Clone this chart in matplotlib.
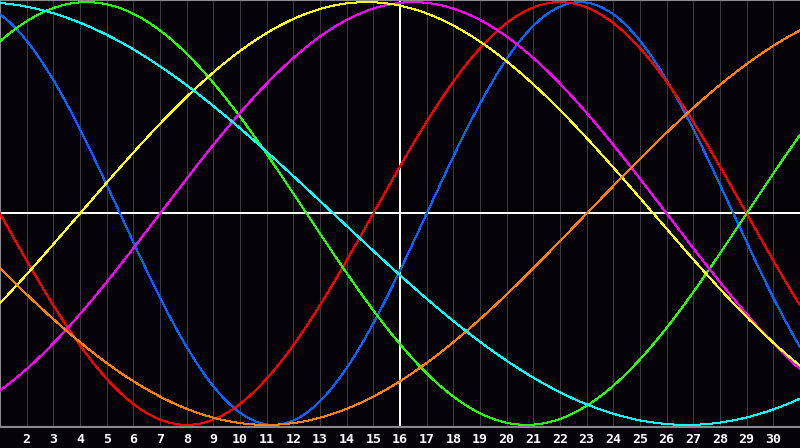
"""Biorhythm chart: seven cycles over a 30 day window, today marked in white."""
import numpy as np
import matplotlib
matplotlib.use("Agg")
import matplotlib.pyplot as plt

# window of days shown, tick labels along the bottom
first_day = 1
last_day = 31
tick_days = list(range(2, 31))
today = 16

# cycle lengths (days) and where each cycle stands on day 1 (day within its cycle)
periods = [23, 28, 33, 38, 43, 48, 53]
start_phase = [7, 14, 5, 32, 40, 26, 14]
colors = ["#0066ff", "#ff0000", "#22ff00", "#ff00ff", "#ffff00", "#ff8000", "#00ffff"]

bg = "#050308"

fig = plt.figure(figsize=(8, 4.48), dpi=100, facecolor=bg)
ax = fig.add_axes([0, 1 - 427 / 448, 1, 427 / 448], facecolor=bg)

# day grid
for d in tick_days:
    ax.axvline(d, color="#3a3a3a", lw=0.72, zorder=1, antialiased=False)

ax.axhline(0, color="white", lw=1.1, zorder=2, antialiased=False)
ax.axvline(today, color="white", lw=1.1, zorder=2, antialiased=False)

t = np.linspace(first_day, last_day, 1201)
for p, ph, c in zip(periods, start_phase, colors):
    ax.plot(t, np.sin(2 * np.pi * (ph + t - first_day) / p), color=c, lw=0.72,
            zorder=3, antialiased=False)

ax.set_xlim(first_day, last_day)
ax.set_ylim(-1.01, 1.01)
ax.set_xticks([])
ax.set_yticks([])
for side in ["left", "top", "bottom"]:
    ax.spines[side].set_color("#8a8a8a")
    ax.spines[side].set_linewidth(1.5)
ax.spines["right"].set_visible(False)

for d in tick_days:
    ax.text(d, -0.029, str(d), transform=ax.get_xaxis_transform(), ha="center",
            va="center", color="white", fontsize=9.5, fontweight="bold",
            family="DejaVu Sans Mono")

fig.savefig("out.png", dpi=100, facecolor=bg)
